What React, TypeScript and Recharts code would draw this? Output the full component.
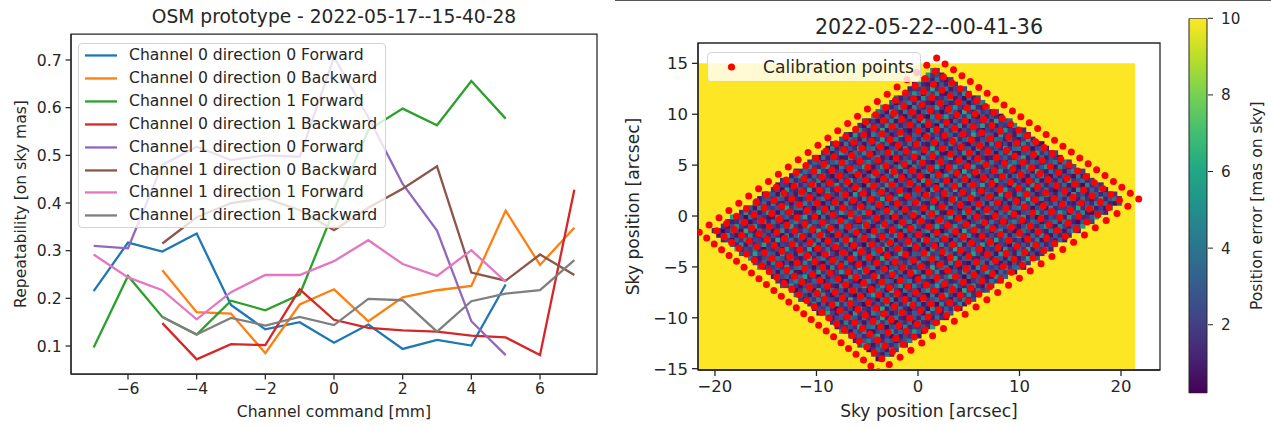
import React from 'react';
import {
  LineChart, Line, XAxis, YAxis, Legend, ScatterChart, Scatter,
  ReferenceArea, BarChart, Bar,
} from 'recharts';

const FONT = '"DejaVu Sans", "Liberation Sans", sans-serif';
const INK = '#262626';

// ---------------- Left chart data ----------------
const channelCommands = [-7, -6, -5, -4, -3, -2, -1, 0, 1, 2, 3, 4, 5, 6, 7];
const ch0dir0Forward = [0.215, 0.317, 0.298, 0.336, 0.186, 0.135, 0.150, 0.107, 0.145, 0.094, 0.113, 0.101, 0.229, null, null];
const ch0dir0Backward = [null, null, 0.259, 0.171, 0.168, 0.085, 0.187, 0.219, 0.152, 0.202, 0.217, 0.226, 0.384, 0.270, 0.348];
const ch0dir1Forward = [0.097, 0.247, 0.161, 0.124, 0.195, 0.175, 0.208, 0.385, 0.553, 0.598, 0.563, 0.656, 0.577, null, null];
const ch0dir1Backward = [null, null, 0.148, 0.072, 0.104, 0.102, 0.219, 0.155, 0.138, 0.133, 0.130, 0.122, 0.118, 0.081, 0.428];
const ch1dir0Forward = [0.310, 0.305, 0.480, 0.518, 0.490, 0.500, 0.497, 0.706, 0.580, 0.440, 0.342, 0.152, 0.081, null, null];
const ch1dir0Backward = [null, null, 0.315, 0.370, 0.400, 0.410, 0.385, 0.343, 0.390, 0.430, 0.477, 0.254, 0.237, 0.292, 0.249];
const ch1dir1Forward = [0.292, 0.244, 0.217, 0.156, 0.213, 0.249, 0.249, 0.278, 0.322, 0.272, 0.247, 0.301, 0.235, null, null];
const ch1dir1Backward = [null, null, 0.161, 0.124, 0.159, 0.143, 0.161, 0.144, 0.199, 0.196, 0.130, 0.194, 0.210, 0.217, 0.280];

const leftXTicks = [-6, -4, -2, 0, 2, 4, 6];
const leftYTicks = [0.1, 0.2, 0.3, 0.4, 0.5, 0.6, 0.7];
const leftXDomain = [-7.66, 7.66];
const leftYDomain = [0.0413, 0.7545];

const SERIES = [
  { key: 's0', name: 'Channel 0 direction 0 Forward', color: '#1f77b4', values: ch0dir0Forward },
  { key: 's1', name: 'Channel 0 direction 0 Backward', color: '#ff7f0e', values: ch0dir0Backward },
  { key: 's2', name: 'Channel 0 direction 1 Forward', color: '#2ca02c', values: ch0dir1Forward },
  { key: 's3', name: 'Channel 0 direction 1 Backward', color: '#d62728', values: ch0dir1Backward },
  { key: 's4', name: 'Channel 1 direction 0 Forward', color: '#9467bd', values: ch1dir0Forward },
  { key: 's5', name: 'Channel 1 direction 0 Backward', color: '#8c564b', values: ch1dir0Backward },
  { key: 's6', name: 'Channel 1 direction 1 Forward', color: '#e377c2', values: ch1dir1Forward },
  { key: 's7', name: 'Channel 1 direction 1 Backward', color: '#7f7f7f', values: ch1dir1Backward },
];

const lineRows = channelCommands.map((x, i) => {
  const row: any = { x };
  SERIES.forEach((s) => { row[s.key] = s.values[i]; });
  return row;
});

// ---------------- Right chart data ----------------
const skyXTicks = [-20, -10, 0, 10, 20];
const skyYTicks = [-15, -10, -5, 0, 5, 10, 15];
// corners of the calibration grid [x, y] in arcsec
const calibLeft = [-21.55, -1.6];
const calibTop = [1.84, 15.52];
const calibRight = [21.74, 1.67];
const calibBottom = [-3.9, -15.3];
const calibSteps = 24; // 25 x 25 points
// image extent of the error map [xmin, xmax, ymin, ymax]
const errorMapExtent = [-21.67, 21.38, -15.13, 15.0];
const errorMapCells = [96, 67];
const errorMapInset = 0.75; // measured region inside the calibration grid (grid steps)
// estimated position errors (mas) of the measured cells, repeating texture
const errorTile = [
  [1.4, 2.2, 0.6, 5.1, 1.8, 1.1, 3.2, 1.5, 6.0, 0.9, 2.4, 1.7, 3.8, 1.2, 0.5, 2.0],
  [3.5, 0.8, 2.1, 1.6, 0.4, 4.6, 1.3, 2.7, 1.4, 5.0, 0.9, 3.0, 1.1, 2.3, 5.6, 1.5],
  [1.0, 5.8, 1.7, 2.5, 3.6, 1.2, 2.0, 0.6, 3.1, 1.6, 4.2, 0.7, 2.2, 1.9, 1.0, 3.3],
  [2.4, 1.3, 0.5, 4.1, 0.9, 2.9, 5.4, 1.8, 0.8, 3.3, 1.5, 4.7, 1.4, 0.6, 2.8, 1.2],
  [0.7, 3.0, 4.8, 1.1, 2.0, 0.4, 1.6, 3.7, 2.3, 0.8, 6.1, 1.8, 0.9, 3.9, 1.7, 2.5],
  [2.0, 1.0, 2.6, 2.2, 5.5, 1.7, 0.7, 2.4, 4.9, 1.9, 1.2, 2.7, 5.2, 1.3, 0.8, 4.4],
  [3.8, 1.9, 1.1, 0.5, 2.7, 4.3, 2.1, 1.0, 1.4, 3.4, 2.5, 0.6, 1.8, 2.9, 4.0, 1.1],
  [0.9, 4.9, 2.0, 3.1, 1.3, 1.5, 3.0, 5.7, 0.9, 2.1, 0.5, 3.6, 1.0, 2.4, 1.6, 0.7],
  [2.9, 0.6, 3.4, 1.8, 4.7, 0.8, 0.6, 2.2, 2.9, 1.3, 5.2, 1.6, 3.2, 0.8, 2.1, 5.3],
  [1.7, 2.5, 1.4, 6.0, 1.5, 3.3, 3.9, 0.9, 2.0, 0.5, 2.2, 2.8, 0.7, 4.6, 1.2, 1.9],
  [4.3, 1.2, 0.8, 2.3, 0.7, 2.6, 1.2, 4.5, 1.6, 3.7, 1.1, 0.6, 2.6, 1.5, 3.5, 0.9],
  [1.1, 3.6, 2.7, 1.0, 3.9, 1.4, 0.8, 1.9, 5.9, 1.2, 2.9, 4.1, 1.3, 0.9, 2.3, 2.6],
  [2.6, 0.7, 5.3, 1.6, 2.4, 0.9, 4.4, 2.8, 1.1, 2.5, 0.8, 1.7, 5.8, 2.1, 1.0, 3.1],
];
const colorbarRange = [0.21, 10];
const colorbarTicks = [2, 4, 6, 8, 10];

const VIRIDIS = ['#440154', '#482475', '#414487', '#355f8d', '#2a788e', '#21918c', '#22a884', '#44bf70', '#7ad151', '#bddf26', '#fde725'];

function hexRgb(h: string) {
  return [parseInt(h.slice(1, 3), 16), parseInt(h.slice(3, 5), 16), parseInt(h.slice(5, 7), 16)];
}
function viridis(v: number) {
  let t = (v - colorbarRange[0]) / (colorbarRange[1] - colorbarRange[0]);
  t = Math.max(0, Math.min(1, t));
  const p = t * 10;
  const i = Math.min(9, Math.floor(p));
  const f = p - i;
  const a = hexRgb(VIRIDIS[i]);
  const b = hexRgb(VIRIDIS[i + 1]);
  const c = a.map((av, k) => Math.round(av + (b[k] - av) * f));
  return `rgb(${c[0]},${c[1]},${c[2]})`;
}

function gridPoint(u: number, v: number) {
  const s = u / calibSteps;
  const r = v / calibSteps;
  const wL = (1 - s) * (1 - r), wT = s * (1 - r), wR = s * r, wB = (1 - s) * r;
  return [
    wL * calibLeft[0] + wT * calibTop[0] + wR * calibRight[0] + wB * calibBottom[0],
    wL * calibLeft[1] + wT * calibTop[1] + wR * calibRight[1] + wB * calibBottom[1],
  ];
}

const calibrationPoints: { x: number; y: number }[] = [];
for (let u = 0; u <= calibSteps; u++) {
  for (let v = 0; v <= calibSteps; v++) {
    const p = gridPoint(u, v);
    calibrationPoints.push({ x: p[0], y: p[1] });
  }
}

const m = errorMapInset;
const quad = [gridPoint(m, m), gridPoint(calibSteps - m, m), gridPoint(calibSteps - m, calibSteps - m), gridPoint(m, calibSteps - m)];
function insideQuad(x: number, y: number) {
  let sign = 0;
  for (let k = 0; k < 4; k++) {
    const a = quad[k], b = quad[(k + 1) % 4];
    const c = (b[0] - a[0]) * (y - a[1]) - (b[1] - a[1]) * (x - a[0]);
    const sg = c >= 0 ? 1 : -1;
    if (sign === 0) sign = sg;
    else if (sg !== sign) return false;
  }
  return true;
}

const cellDX = (errorMapExtent[1] - errorMapExtent[0]) / errorMapCells[0];
const cellDY = (errorMapExtent[3] - errorMapExtent[2]) / errorMapCells[1];
const errorCells: { x: number; y: number; v: number }[] = [];
for (let j = 0; j < errorMapCells[1]; j++) {
  for (let i = 0; i < errorMapCells[0]; i++) {
    const x = errorMapExtent[0] + (i + 0.5) * cellDX;
    const y = errorMapExtent[2] + (j + 0.5) * cellDY;
    if (insideQuad(x, y)) {
      errorCells.push({ x, y, v: errorTile[j % errorTile.length][i % errorTile[0].length] });
    }
  }
}

// ---------------- Layout ----------------
const R_LEFT = 615;
const R_WIDTH = 560;
const R_YAXIS_W = 83;
const R_MARGIN_RIGHT = 15;
const R_TOP = 43;
const R_XAXIS_H = 57;
const R_XDOM = [-21.67, 23.84];
const R_YDOM = [-15.13, 17.0];
const R_PLOT_W = R_WIDTH - R_YAXIS_W - R_MARGIN_RIGHT;
const R_PLOT_H = 427 - R_TOP - R_XAXIS_H;
const CELL_W = (R_PLOT_W / (R_XDOM[1] - R_XDOM[0])) * cellDX;
const CELL_H = (R_PLOT_H / (R_YDOM[1] - R_YDOM[0])) * cellDY;

const fmtMinus = (v: number) => String(v).replace('-', '\u2212');

function LeftLegend() {
  return (
    <div style={{ boxSizing: 'border-box', width: 308, height: 185, border: '1px solid #d4d4d4', borderRadius: 4, background: 'rgba(255,255,255,0.8)', position: 'relative', fontFamily: FONT }}>
      {SERIES.map((s, i) => (
        <div key={s.key} style={{ position: 'absolute', left: 0, top: i * 22.9, height: 22.9, width: '100%' }}>
          <svg width={40} height={23} style={{ position: 'absolute', left: 0, top: 0 }}>
            <line x1={6} x2={38} y1={11.45} y2={11.45} stroke={s.color} strokeWidth={2.3} />
          </svg>
          <span style={{ position: 'absolute', left: 50, top: 0, lineHeight: '22.9px', fontSize: 15.6, color: INK, whiteSpace: 'nowrap' }}>{s.name}</span>
        </div>
      ))}
    </div>
  );
}

function RightLegend() {
  return (
    <div style={{ boxSizing: 'border-box', width: 214, height: 30, border: '1px solid #d4d4d4', borderRadius: 4, background: 'rgba(255,255,255,0.8)', position: 'relative', fontFamily: FONT }}>
      <svg width={40} height={30} style={{ position: 'absolute', left: 0, top: 0 }}>
        <circle cx={23.5} cy={14} r={3.6} fill="#ff0000" />
      </svg>
      <span style={{ position: 'absolute', left: 55, top: 0, lineHeight: '28px', fontSize: 17.1, color: INK, whiteSpace: 'nowrap' }}>Calibration points</span>
    </div>
  );
}

const renderCell = (p: any) => (
  <rect x={p.cx - CELL_W / 2} y={p.cy - CELL_H / 2} width={CELL_W + 0.5} height={CELL_H + 0.5} fill={viridis(p.payload.v)} />
);
const renderDot = (p: any) => <circle cx={p.cx} cy={p.cy} r={3.5} fill="#ff0000" />;

export default function App() {
  const tickL = { fill: INK, fontSize: 15.6, fontFamily: FONT };
  const tickR = { fill: INK, fontSize: 16.5, fontFamily: FONT };
  return (
    <div style={{ position: 'absolute', left: 0, top: 0, width: 1271, height: 427, background: '#fff', overflow: 'hidden', fontFamily: FONT }}>
      {/* separator line at the top of the right figure */}
      <div style={{ position: 'absolute', left: 615, top: 0, width: 656, height: 0, borderTop: '1.5px solid #555' }} />

      {/* ---------- Left chart ---------- */}
      <div style={{ position: 'absolute', left: 34, top: 8, width: 600, textAlign: 'center', fontSize: 18.65, lineHeight: '18.65px', color: INK, whiteSpace: 'nowrap' }}>
        OSM prototype - 2022-05-17--15-40-28
      </div>
      <div style={{ position: 'absolute', left: 0, top: 0 }}>
        <LineChart width={615} height={427} data={lineRows} margin={{ top: 34, right: 18, left: 0, bottom: 0 }}>
          <XAxis dataKey="x" type="number" domain={leftXDomain} ticks={leftXTicks} allowDataOverflow
            height={53} stroke={INK} strokeWidth={1.25} tickSize={5.4} tickMargin={4} tick={tickL} tickFormatter={fmtMinus}
            label={{ value: 'Channel command [mm]', position: 'insideBottom', offset: 10, fill: INK, fontSize: 15.6, fontFamily: FONT }} />
          <YAxis type="number" domain={leftYDomain} ticks={leftYTicks} allowDataOverflow
            width={71} stroke={INK} strokeWidth={1.25} tickSize={5.4} tickMargin={4} tick={tickL} tickFormatter={(v: number) => v.toFixed(1)}
            label={{ value: 'Repeatability [on sky mas]', angle: -90, position: 'insideLeft', offset: 20, fill: INK, fontSize: 15.6, fontFamily: FONT, style: { textAnchor: 'middle' } }} />
          {SERIES.map((s) => (
            <Line key={s.key} dataKey={s.key} name={s.name} stroke={s.color} strokeWidth={2.3} dot={false}
              isAnimationActive={false} connectNulls={false} type="linear" />
          ))}
          <ReferenceArea x1={leftXDomain[0]} x2={leftXDomain[1]} y1={leftYDomain[0]} y2={leftYDomain[1]}
            fill="none" stroke={INK} strokeWidth={1.25} ifOverflow="visible" />
          <Legend layout="vertical" align="center" verticalAlign="middle"
            wrapperStyle={{ left: 78, top: 43, width: 308, height: 185 }} content={<LeftLegend />} />
        </LineChart>
      </div>

      {/* ---------- Right chart ---------- */}
      <div style={{ position: 'absolute', left: 629, top: 17, width: 600, textAlign: 'center', fontSize: 20.6, lineHeight: '20.6px', color: INK, whiteSpace: 'nowrap' }}>
        2022-05-22--00-41-36
      </div>
      <div style={{ position: 'absolute', left: R_LEFT, top: 0 }}>
        <ScatterChart width={R_WIDTH} height={427} margin={{ top: R_TOP, right: R_MARGIN_RIGHT, left: 0, bottom: 0 }}>
          <XAxis dataKey="x" type="number" domain={R_XDOM} ticks={skyXTicks} allowDataOverflow
            height={R_XAXIS_H} stroke={INK} strokeWidth={1.3} tickSize={6} tickMargin={4} tick={tickR} tickFormatter={fmtMinus}
            label={{ value: 'Sky position [arcsec]', position: 'insideBottom', offset: 10, fill: INK, fontSize: 17.1, fontFamily: FONT }} />
          <YAxis dataKey="y" type="number" domain={R_YDOM} ticks={skyYTicks} allowDataOverflow
            width={R_YAXIS_W} stroke={INK} strokeWidth={1.3} tickSize={6} tickMargin={4} tick={tickR} tickFormatter={fmtMinus}
            label={{ value: 'Sky position [arcsec]', angle: -90, position: 'insideLeft', offset: 18, fill: INK, fontSize: 17.1, fontFamily: FONT, style: { textAnchor: 'middle' } }} />
          <ReferenceArea x1={errorMapExtent[0]} x2={errorMapExtent[1]} y1={errorMapExtent[2]} y2={errorMapExtent[3]}
            fill="#fde725" fillOpacity={1} stroke="none" ifOverflow="hidden" />
          <Scatter name="Position error" data={errorCells} shape={renderCell} isAnimationActive={false} legendType="none" />
          <Scatter name="Calibration points" data={calibrationPoints} shape={renderDot} isAnimationActive={false} />
          <ReferenceArea x1={R_XDOM[0]} x2={R_XDOM[1]} y1={R_YDOM[0]} y2={R_YDOM[1]}
            fill="none" stroke={INK} strokeWidth={1.3} ifOverflow="visible" />
          <Legend layout="vertical" align="center" verticalAlign="middle"
            wrapperStyle={{ left: 92, top: 52, width: 214, height: 30 }} content={<RightLegend />} />
        </ScatterChart>
      </div>

      {/* ---------- Colorbar ---------- */}
      <div style={{ position: 'absolute', left: 1175, top: 0 }}>
        <BarChart width={96} height={427} data={[{ k: 'cb', r: colorbarRange }]} margin={{ top: 18.3, right: 0, bottom: 33.7, left: 13 }} barCategoryGap={0}>
          <defs>
            <linearGradient id="viridisGrad" x1="0" y1="1" x2="0" y2="0">
              {VIRIDIS.map((c, i) => <stop key={c} offset={`${i * 10}%`} stopColor={c} />)}
            </linearGradient>
          </defs>
          <XAxis dataKey="k" hide />
          <YAxis orientation="right" type="number" domain={colorbarRange} ticks={colorbarTicks} allowDataOverflow
            width={63} axisLine={false} stroke={INK} tickSize={5} tickMargin={8} tick={{ fill: INK, fontSize: 15.2, fontFamily: FONT }}
            label={{ value: 'Position error [mas on sky]', angle: -90, position: 'insideRight', offset: 15, fill: INK, fontSize: 15.6, fontFamily: FONT, style: { textAnchor: 'middle' } }} />
          <Bar dataKey="r" fill="url(#viridisGrad)" stroke={INK} strokeWidth={1} barSize={20} isAnimationActive={false} />
        </BarChart>
      </div>
    </div>
  );
}
